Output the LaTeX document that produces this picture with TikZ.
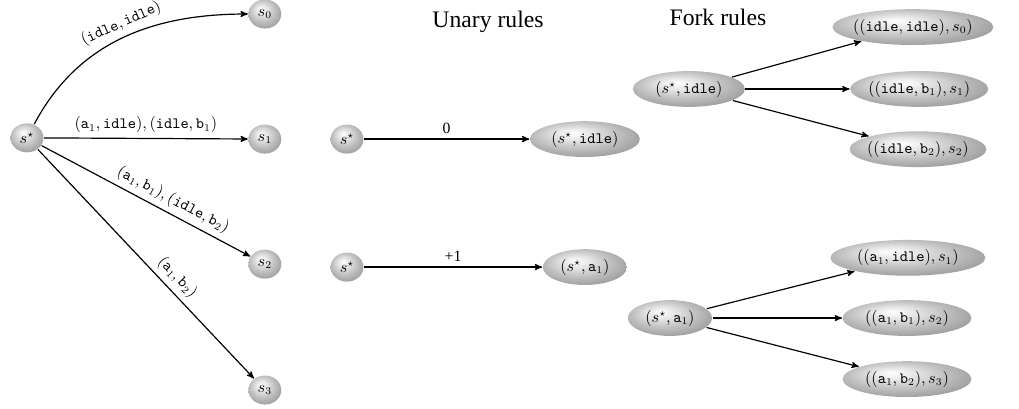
\documentclass[tikz,border=0pt]{standalone}
\usepackage{fontspec}
\setmainfont{Liberation Serif}
\usetikzlibrary{arrows}
\usetikzlibrary{shapes.geometric}
\usetikzlibrary{shadings}
\newcommand{\act}[1]{\mathtt{#1}}
\pgfdeclareradialshading{greyball}{\pgfpoint{-6bp}{9bp}}{%
	color(0bp)=(white); color(9bp)=(gray!22); color(19bp)=(gray!50);
	color(28bp)=(gray!72); color(50bp)=(gray!88)}
\tikzset{
	ballnode/.style={ellipse, shading=greyball, inner sep=0pt,
		minimum width=.78cm, minimum height=.69cm},
	ellnode/.style={ellipse, shading=greyball, inner xsep=-2pt,
		inner ysep=0pt, minimum height=.85cm, minimum width=#1},
	ellnode/.default=2cm,
	title/.style={font=\fontsize{16}{19}\selectfont}
}

\begin{document}
\begin{tikzpicture}[>=stealth', thick, font=\fontsize{10.6}{13}\selectfont]
	\useasboundingbox (0,0) rectangle (24.2,9.713);
	% left: the product moves from s*
	\node[ballnode] (sstar) at (0.64,6.44) {$s^\star$};
	\node[ballnode] (s0) at (6.29,9.38) {$s_0$};
	\node[ballnode] (s1) at (6.29,6.41) {$s_1$};
	\node[ballnode] (s2) at (6.29,3.44) {$s_2$};
	\node[ballnode] (s3) at (6.29,0.45) {$s_3$};
	\draw[->] (sstar) to[out=62, in=180] node[sloped, above, pos=.52] {$(\act{idle},\act{idle})$} (s0);
	\draw[->] (sstar) -- node[above] {$(\act{a}_1,\act{idle}),(\act{idle},\act{b}_1)$} (s1);
	\draw[->] (sstar) -- node[sloped, above, pos=.6] {$(\act{a}_1,\act{b}_1),(\act{idle},\act{b}_2)$} (s2);
	\draw[->] (sstar) -- node[sloped, above, pos=.6] {$(\act{a}_1,\act{b}_2)$} (s3);
	% unary rules
	\node[title] (unary) at (11.59,9.19) {Unary rules};
	\node[ballnode] (ua) at (8.24,6.41) {$s^\star$};
	\node[ellnode=2.61cm] (uaidle) at (13.89,6.41) {$(s^\star,\act{idle})$};
	\node[ballnode] (ub) at (8.24,3.37) {$s^\star$};
	\node[ellnode=2cm] (uba) at (13.89,3.37) {$(s^\star,\act{a}_1)$};
	\draw[->] (ua) -- node[above] {0} (uaidle);
	\draw[->] (ub) -- node[above] {+1} (uba);
	% fork rules
	\node[title] (fork) at (17.05,9.31) {Fork rules};
	\node[ellnode=2.66cm] (fa) at (16.36,7.60) {$(s^\star,\act{idle})$};
	\node[ellnode=3.63cm] (fa0) at (21.68,9.07) {$((\act{idle},\act{idle}),s_0)$};
	\node[ellnode=3.28cm] (fa1) at (21.83,7.60) {$((\act{idle},\act{b}_1),s_1)$};
	\node[ellnode=3.25cm] (fa2) at (21.80,6.17) {$((\act{idle},\act{b}_2),s_2)$};
	\node[ellnode=2cm] (fb) at (15.91,2.16) {$(s^\star,\act{a}_1)$};
	\node[ellnode=3.68cm] (fb0) at (21.56,3.59) {$((\act{a}_1,\act{idle}),s_1)$};
	\node[ellnode=3.06cm] (fb1) at (21.54,2.16) {$((\act{a}_1,\act{b}_1),s_2)$};
	\node[ellnode=3.06cm] (fb2) at (21.54,0.71) {$((\act{a}_1,\act{b}_2),s_3)$};
	\foreach \t in {fa0,fa1,fa2}
		\draw[->] (fa) -- (\t);
	\foreach \t in {fb0,fb1,fb2}
		\draw[->] (fb) -- (\t);
\end{tikzpicture}
\end{document}
